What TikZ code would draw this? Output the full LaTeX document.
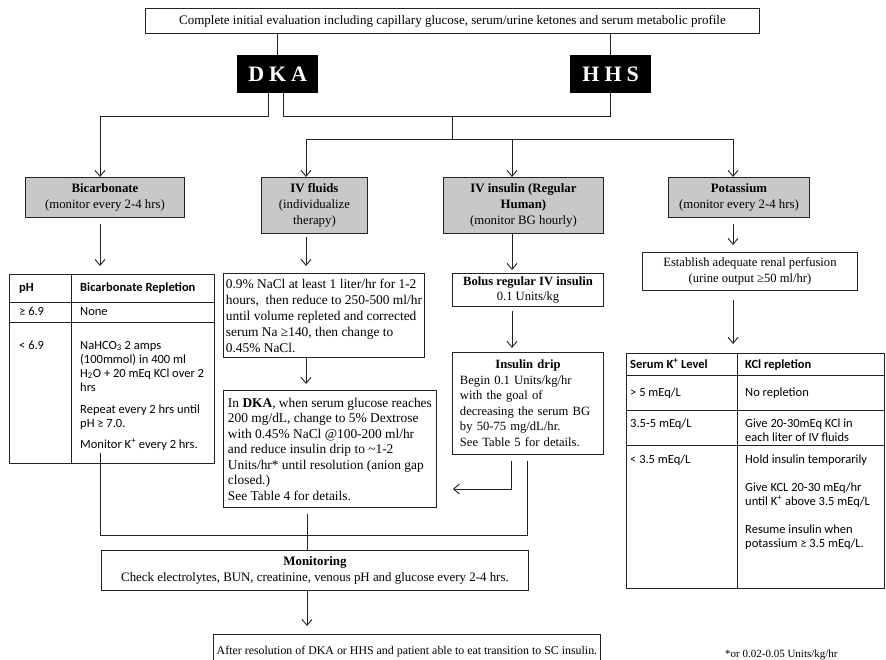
\documentclass[tikz,border=0pt]{standalone}
\usepackage{fontspec}
\setmainfont{Liberation Serif}
\newfontfamily\tabfont{Carlito}
\usetikzlibrary{arrows.meta}
\definecolor{catgray}{RGB}{200,200,200}
\definecolor{lncol}{RGB}{35,35,35}
\newcommand\mainfs{\fontsize{12.6}{15.5}\selectfont}
\newcommand\bigfs{\fontsize{13.4}{15.5}\selectfont}
\newcommand\catfs{\fontsize{12.8}{16}\selectfont}
\newcommand\tabfs{\tabfont\fontsize{12.5}{13}\selectfont}
\begin{document}
\begin{tikzpicture}[x=1pt,y=-1pt,
  ln/.style={draw=lncol,line width=0.9pt},
  arr/.style={ln,-{Straight Barb[length=6pt,width=10pt]}},
  sz/.style 2 args={minimum width=#1pt,minimum height=#2pt},
  box/.style={ln,fill=white,anchor=north west,inner sep=0pt,font=\mainfs,align=left},
  cbox/.style={box,fill=catgray,align=center,font=\catfs},
  dark/.style={fill=black,anchor=north west,inner sep=0pt,text=white,font=\fontsize{22}{24}\selectfont\bfseries},
  tt/.style={anchor=base west,inner sep=0pt,font=\tabfs},
  th/.style={tt,font=\tabfs\bfseries},
]
\useasboundingbox (0,0) rectangle (886,660);
\fill[white] (0,0) rectangle (886,660);

% top
\node[box,align=center,sz={614}{25},font=\fontsize{13}{15}\selectfont] (top) at (145,8) {Complete initial evaluation including capillary glucose, serum/urine ketones and serum metabolic profile};
\node[dark,sz={81}{38}] (dka) at (237,55) {D\hspace{5pt}K\hspace{5pt}A};
\node[dark,sz={81}{38}] (hhs) at (570,55) {H\hspace{5pt}H\hspace{5pt}S};
\draw[ln] (top.south -| dka.north) -- (dka.north);
\draw[ln] (top.south -| hhs.north) -- (hhs.north);

% categories
\node[cbox,sz={159}{40}] (bic) at (25,177) {\textbf{Bicarbonate}\\(monitor every 2-4 hrs)};
\node[cbox,sz={106}{56}] (ivf) at (261,177) {\textbf{IV fluids}\\(individualize\\therapy)};
\node[cbox,sz={160}{56}] (ins) at (443,177) {\textbf{IV insulin (Regular}\\\textbf{Human)}\\(monitor BG hourly)};
\node[cbox,sz={141}{40}] (pot) at (668,177) {\textbf{Potassium}\\(monitor every 2-4 hrs)};

\coordinate (ja) at (268,116);
\coordinate (jb) at (283,116);
\coordinate (jc) at (452,116);
\coordinate (jd) at (452,139);
\coordinate (xb) at (100,0);
\coordinate (xf) at (306,0);
\coordinate (xi) at (512,0);
\coordinate (xp) at (733,0);

\draw[arr] (dka.south -| ja) -- (ja) -| (bic.north -| xb);
\draw[ln] (dka.south -| jb) -- (jb) -- (jb -| hhs.south) -- (hhs.south);
\draw[ln] (jc) -- (jd);
\draw[ln] (jd -| xf) -- (jd -| xp);
\draw[arr] (jd -| xf) -- (ivf.north -| xf);
\draw[arr] (jd -| xi) -- (ins.north -| xi);
\draw[arr] (jd -| xp) -- (pot.north -| xp);

% bicarbonate table
\node[ln,anchor=north west,inner sep=0pt,sz={205}{189}] (btab) at (9,274) {};
\draw[ln] (71,274) -- (71,463);
\draw[ln] (9,302) -- (214,302);
\draw[ln] (9,322) -- (214,322);
\node[th] (b1) at (19,292) {pH};
\node[th] (b2) at (80,292) {Bicarbonate Repletion};
\node[tt] (b3) at (19,316) {≥ 6.9};
\node[tt] (b4) at (80,316) {None};
\node[tt] (b5) at (19,349) {< 6.9};
\node[tt] (b6) at (80,349) {NaHCO\textsubscript{3} 2 amps};
\node[tt] (b7) at (80,363) {(100mmol) in 400 ml};
\node[tt] (b8) at (80,377) {H\textsubscript{2}O + 20 mEq KCl over 2};
\node[tt] (b9) at (80,391) {hrs};
\node[tt] (b10) at (80,413) {Repeat every 2 hrs until};
\node[tt] (b11) at (80,427) {pH ≥ 7.0.};
\node[tt] (b12) at (80,448) {Monitor K\textsuperscript{+} every 2 hrs.};
\draw[arr,shorten <=6pt,shorten >=8pt] (bic.south -| xb) -- (btab.north -| xb);

% IV fluids
\node[box,sz={201}{84},font=\fontsize{13.4}{16}\selectfont] (ivft) at (223,273) {0.9\% NaCl at least 1 liter/hr for 1-2\\hours,\ \ then reduce to 250-500 ml/hr\\until volume repleted and corrected\\serum Na ≥140, then change to\\0.45\% NaCl.};
\draw[arr,shorten <=3pt,shorten >=7pt] (ivf.south -| xf) -- (ivft.north -| xf);
\node[box,sz={213}{117},font=\bigfs] (dkat) at (223,390) {In \textbf{DKA}, when serum glucose reaches\\200 mg/dL, change to 5\% Dextrose\\with 0.45\% NaCl @100-200 ml/hr\\and reduce insulin drip to \textasciitilde1-2\\Units/hr* until resolution (anion gap\\closed.)\\See Table 4 for details.};
\draw[arr,shorten >=6pt] (ivft.south -| xf) -- (dkat.north -| xf);

% insulin
\node[box,align=center,sz={151}{33}] (bol) at (452,273) {\textbf{Bolus regular IV insulin}\\0.1 Units/kg};
\draw[arr,shorten >=3pt] (ins.south -| xi) -- (bol.north -| xi);
\node[box,text width=136pt,sz={151}{102}] (drip) at (452,352) {\makebox[\linewidth]{\textbf{Insulin drip}}\\Begin 0.1 Units/kg/hr\\with the goal of\\decreasing the serum BG\\by 50-75 mg/dL/hr.\\See Table 5 for details.};
\draw[arr,shorten <=4pt,shorten >=4pt] (bol.south -| xi) -- (drip.north -| xi);

\coordinate (ka) at (511,489);
\coordinate (kb) at (527,535);
\coordinate (kc) at (100,535);
\coordinate (kd) at (307,535);
\coordinate (ke) at (100,453);
\draw[arr,shorten <=6pt,shorten >=16pt] (drip.south -| ka) -- (ka) -- (ka -| dkat.east);
\draw[ln] (ke) -- (kc) -- (kb) -- ([yshift=-6pt]drip.south -| kb);

% monitoring
\node[box,align=center,sz={427}{40},font=\fontsize{12.9}{16}\selectfont] (mon) at (101,550) {\textbf{Monitoring}\\Check electrolytes, BUN, creatinine, venous pH and glucose every 2-4 hrs.};
\draw[ln,shorten <=6pt] (dkat.south -| kd) -- (mon.north -| kd);
\node[box,align=center,sz={387}{34},font=\fontsize{11.9}{14}\selectfont] (fin) at (213,634) {After resolution of DKA or HHS and patient able to eat transition to SC insulin.};
\draw[arr,shorten >=8pt] (mon.south -| kd) -- (fin.north -| kd);
\node[anchor=west,inner sep=0pt,font=\fontsize{11}{13}\selectfont] (fn) at (725,655) {*or 0.02-0.05 Units/kg/hr};

% potassium
\node[box,align=center,sz={215}{38}] (est) at (642,252) {Establish adequate renal perfusion\\(urine output ≥50 ml/hr)};
\draw[arr,shorten <=6pt,shorten >=7pt] (pot.south -| xp) -- (est.north -| xp);
\node[ln,anchor=north west,inner sep=0pt,sz={258}{235}] (ktab) at (626,353) {};
\draw[arr,shorten <=9pt,shorten >=9pt] (est.south -| xp) -- (ktab.north -| xp);
\draw[ln] (737,353) -- (737,588);
\draw[ln] (626,375) -- (884,375);
\draw[ln] (626,410) -- (884,410);
\draw[ln] (626,445) -- (884,445);
\node[th] (k1) at (630,368) {Serum K\textsuperscript{+} Level};
\node[th] (k2) at (745,368) {KCl repletion};
\node[tt] (k3) at (630,396) {> 5 mEq/L};
\node[tt] (k4) at (745,396) {No repletion};
\node[tt] (k5) at (630,427) {3.5-5 mEq/L};
\node[tt] (k6) at (745,427) {Give 20-30mEq KCl in};
\node[tt] (k7) at (745,441) {each liter of IV fluids};
\node[tt] (k8) at (630,463) {< 3.5 mEq/L};
\node[tt] (k9) at (745,463) {Hold insulin temporarily};
\node[tt] (k10) at (745,491) {Give KCL 20-30 mEq/hr};
\node[tt] (k11) at (745,505) {until K\textsuperscript{+} above 3.5 mEq/L};
\node[tt] (k12) at (745,533) {Resume insulin when};
\node[tt] (k13) at (745,547) {potassium ≥ 3.5 mEq/L.};
\end{tikzpicture}
\end{document}
